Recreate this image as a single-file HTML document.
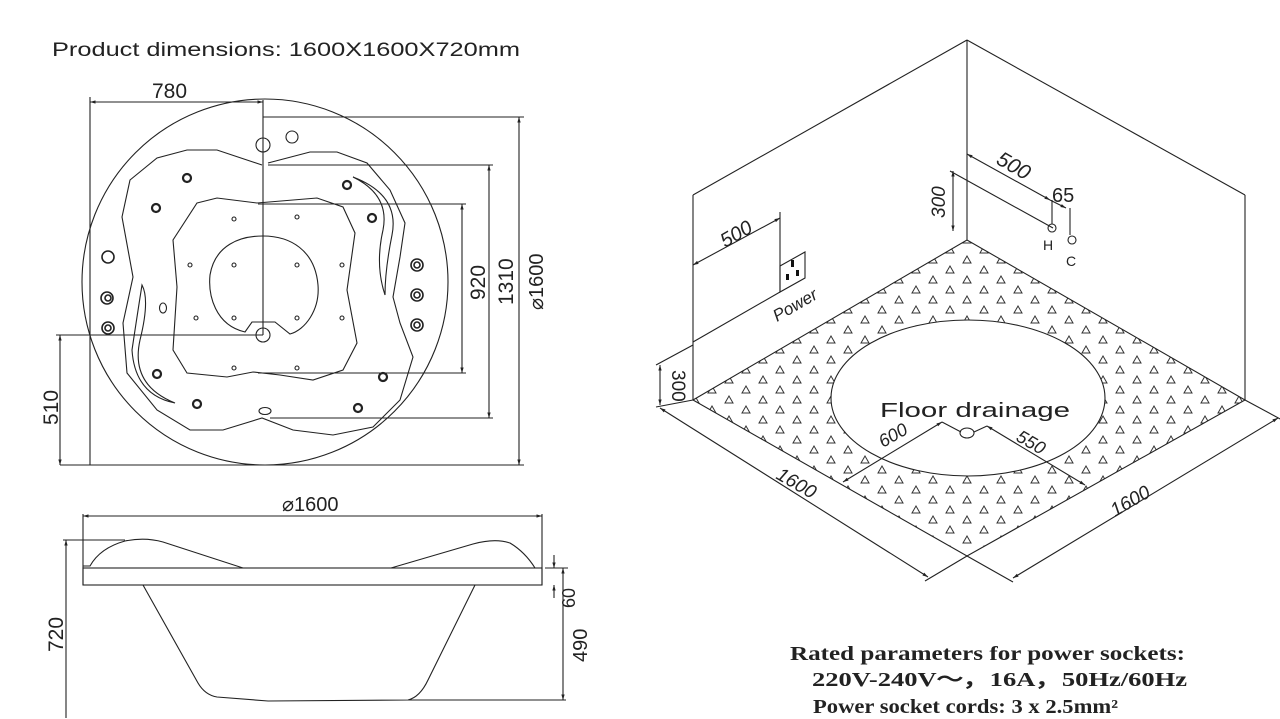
<!DOCTYPE html>
<html><head><meta charset="utf-8"><style>
html,body{margin:0;padding:0;background:#fff;}
svg{display:block;}
text{font-family:"Liberation Sans",sans-serif;fill:#222;}
</style></head><body>
<svg width="1280" height="719" viewBox="0 0 1280 719" xmlns="http://www.w3.org/2000/svg">
<defs>
<marker id="a" viewBox="0 0 10 10" refX="10" refY="5" markerWidth="7" markerHeight="5" orient="auto-start-reverse"><path d="M0,2 L10,5 L0,8z" fill="#222"/></marker>
<pattern id="tri" x="967" y="244" width="34" height="20" patternUnits="userSpaceOnUse">
<path d="M13,9 L17,2 L21,9z M-4,19 L0,12 L4,19z M30,19 L34,12 L38,19z" fill="none" stroke="#333" stroke-width="1"/>
</pattern>
<clipPath id="fl"><polygon points="693,400 967,240 1245,400 967,556"/></clipPath>
</defs>
<g stroke="#222" fill="none" stroke-width="1.1">

<circle cx="265" cy="282" r="183"/>
<path d="M262,165 L217,150 L187,150 L157,158 L130,180 L122,217 L133,277 L123,323 L127,373 L157,410 L190,430 L223,430 L262,418 L293,430 L333,435 L373,427 L400,400 L413,357 L400,323 L393,297 L400,257 L405,223 L390,190 L367,163 L337,152 L310,152 L268,163"/>
<path d="M197,203 L217,198 L257,203 L317,198 L343,207 L355,233 L347,290 L357,343 L343,370 L313,380 L280,375 L253,372 L227,377 L187,373 L173,350 L177,287 L173,240 Z"/>
<path d="M245,332 C215,325 208,295 210,275 C215,245 240,236 263,236 C290,236 315,250 318,285 C320,310 305,330 290,334 L275,322 L252,322 Z"/>
<path d="M353,177 Q400,195 392,235 Q385,270 385,295 Q375,265 383,230 Q390,195 353,177Z"/>
<path d="M142,285 Q150,300 140,340 Q130,385 175,403 Q135,395 132,350 Q138,310 142,285Z"/>
<circle cx="263" cy="145" r="7"/><circle cx="292" cy="137" r="6"/>
<circle cx="263" cy="335" r="7"/>
<ellipse cx="265" cy="411" rx="6" ry="3.5"/>
<ellipse cx="163" cy="308" rx="3.5" ry="5"/>
<g stroke-width="2.2">
<circle cx="187" cy="178" r="4"/><circle cx="156" cy="208" r="4"/><circle cx="347" cy="185" r="4"/><circle cx="372" cy="218" r="4"/>
<circle cx="157" cy="374" r="4"/><circle cx="197" cy="404" r="4"/><circle cx="383" cy="377" r="4"/><circle cx="358" cy="408" r="4"/>
</g>
<g stroke-width="1.6">
<circle cx="108" cy="257" r="6"/><circle cx="107" cy="298" r="6"/><circle cx="108" cy="328" r="6"/>
<circle cx="417" cy="265" r="6"/><circle cx="417" cy="295" r="6"/><circle cx="417" cy="325" r="6"/>
<circle cx="108" cy="298" r="3"/><circle cx="108" cy="328" r="3"/><circle cx="417" cy="265" r="3"/><circle cx="417" cy="295" r="3"/><circle cx="417" cy="325" r="3"/>
</g>
<g>
<circle cx="234" cy="219" r="2"/><circle cx="297" cy="217" r="2"/><circle cx="190" cy="265" r="2"/><circle cx="234" cy="265" r="2"/><circle cx="297" cy="265" r="2"/><circle cx="342" cy="265" r="2"/>
<circle cx="196" cy="318" r="2"/><circle cx="234" cy="318" r="2"/><circle cx="297" cy="318" r="2"/><circle cx="342" cy="318" r="2"/><circle cx="234" cy="368" r="2"/><circle cx="297" cy="368" r="2"/>
</g>
<line x1="263" y1="100" x2="263" y2="335"/>
<line x1="90" y1="97" x2="90" y2="465"/>
<line x1="90" y1="102" x2="263" y2="102" marker-start="url(#a)" marker-end="url(#a)"/>
<line x1="263" y1="117" x2="524" y2="117"/>
<line x1="60" y1="465" x2="524" y2="465"/>
<line x1="519" y1="117" x2="519" y2="465" marker-start="url(#a)" marker-end="url(#a)"/>
<line x1="268" y1="165" x2="493" y2="165"/><line x1="270" y1="418" x2="493" y2="418"/>
<line x1="489" y1="165" x2="489" y2="418" marker-start="url(#a)" marker-end="url(#a)"/>
<line x1="258" y1="204" x2="466" y2="204"/><line x1="258" y1="373" x2="466" y2="373"/>
<line x1="462" y1="204" x2="462" y2="373" marker-start="url(#a)" marker-end="url(#a)"/>
<line x1="56" y1="335" x2="263" y2="335"/>
<line x1="60" y1="335" x2="60" y2="465" marker-start="url(#a)" marker-end="url(#a)"/>

<line x1="83" y1="516" x2="542" y2="516" marker-start="url(#a)" marker-end="url(#a)"/>
<line x1="83" y1="514" x2="83" y2="585"/><line x1="542" y1="514" x2="542" y2="585"/>
<rect x="83" y="568" width="459" height="17"/>
<path d="M63,540 L125,540 M83,566 L90,566 Q100,548 125,541 Q145,537 163,542 L243,568 L391,568 L473,544 Q495,538 510,543 Q525,552 535,568 L542,568"/>
<path d="M143,585 L198,683 Q205,695 217,697 L268,701 L408,700 Q420,697 428,680 L475,585"/>
<line x1="66" y1="540" x2="66" y2="718" marker-start="url(#a)"/>
<line x1="545" y1="568" x2="568" y2="568"/><line x1="408" y1="700" x2="566" y2="700"/>
<line x1="554" y1="555" x2="554" y2="568" marker-end="url(#a)"/><line x1="554" y1="598" x2="554" y2="585" marker-end="url(#a)"/>
<line x1="563" y1="568" x2="563" y2="700" marker-start="url(#a)" marker-end="url(#a)"/>

<line x1="967" y1="40" x2="967" y2="240"/>
<line x1="693" y1="195" x2="967" y2="40"/>
<line x1="967" y1="40" x2="1245" y2="195"/>
<line x1="693" y1="195" x2="693" y2="400"/>
<line x1="1245" y1="195" x2="1245" y2="400"/>
<rect x="690" y="235" width="560" height="330" fill="url(#tri)" stroke="none" clip-path="url(#fl)"/>
<ellipse cx="968" cy="398" rx="137" ry="78" fill="#fff"/>
<polygon points="693,400 967,240 1245,400 967,556"/>
<line x1="693" y1="265" x2="780" y2="218" marker-start="url(#a)" marker-end="url(#a)"/>
<line x1="780" y1="212" x2="780" y2="292"/>
<path d="M780,266 L805,252 L805,278 L780,292 Z"/>
<rect x="791" y="260" width="3" height="7" fill="#111" stroke="none"/><rect x="786" y="274" width="3" height="6" fill="#111" stroke="none"/><rect x="796" y="270" width="3" height="6" fill="#111" stroke="none"/>
<line x1="780" y1="292" x2="693" y2="342"/>
<line x1="953" y1="171" x2="953" y2="231" marker-start="url(#a)" marker-end="url(#a)"/>
<line x1="950" y1="171" x2="1053" y2="228"/>
<line x1="967" y1="154" x2="1050" y2="200" marker-start="url(#a)" marker-end="url(#a)"/>
<line x1="1050" y1="200" x2="1066" y2="208" marker-end="url(#a)"/>
<line x1="1052" y1="200" x2="1052" y2="224"/><line x1="1070" y1="208" x2="1070" y2="235"/>
<circle cx="1052" cy="228" r="4"/><circle cx="1072" cy="240" r="4"/>
<line x1="660" y1="365" x2="660" y2="405" marker-start="url(#a)" marker-end="url(#a)"/>
<line x1="656" y1="365" x2="693" y2="345"/><line x1="693" y1="400" x2="656" y2="407"/>
<line x1="660" y1="408" x2="928" y2="577" marker-start="url(#a)" marker-end="url(#a)"/>
<line x1="967" y1="556" x2="925" y2="581"/><line x1="967" y1="556" x2="1013" y2="582"/>
<line x1="1245" y1="400" x2="1282" y2="420"/>
<line x1="1278" y1="418" x2="1013" y2="578" marker-start="url(#a)" marker-end="url(#a)"/>
<ellipse cx="967" cy="433" rx="7" ry="5"/>
<line x1="942" y1="422" x2="843" y2="482" marker-start="url(#a)" marker-end="url(#a)"/>
<line x1="942" y1="422" x2="961" y2="432"/>
<line x1="987" y1="426" x2="1085" y2="485" marker-start="url(#a)" marker-end="url(#a)"/>
<line x1="987" y1="426" x2="974" y2="432"/>
</g>

<text x="52" y="56" font-size="19" textLength="468" lengthAdjust="spacingAndGlyphs">Product dimensions: 1600X1600X720mm</text>
<text x="152" y="98" font-size="21">780</text>
<text font-size="21" transform="translate(485,300) rotate(-90)">920</text>
<text font-size="21" transform="translate(513,305) rotate(-90)">1310</text>
<text font-size="20" transform="translate(543,310) rotate(-90)">⌀1600</text>
<text font-size="21" transform="translate(58,425) rotate(-90)">510</text>
<text x="282" y="511" font-size="20">⌀1600</text>
<text font-size="21" transform="translate(63,652) rotate(-90)">720</text>
<text font-size="18" transform="translate(575,608) rotate(-90)">60</text>
<text font-size="20" transform="translate(587,662) rotate(-90)">490</text>
<text font-size="20" transform="translate(725,248) rotate(-30)" font-style="italic">500</text>
<text font-size="17" transform="translate(777,322) rotate(-30)" font-style="italic">Power</text>
<text font-size="19" transform="translate(945,218) rotate(-90)" font-style="italic">300</text>
<text font-size="21" transform="translate(995,163) rotate(30)" font-style="italic">500</text>
<text x="1052" y="202" font-size="20">65</text>
<text x="1043" y="250" font-size="14">H</text>
<text x="1066" y="266" font-size="14">C</text>
<text font-size="19" transform="translate(672,370) rotate(90)">300</text>
<text x="880" y="417" font-size="20" textLength="190" lengthAdjust="spacingAndGlyphs">Floor drainage</text>
<text font-size="18" transform="translate(883,448) rotate(-30)" font-style="italic">600</text>
<text font-size="18" transform="translate(1015,440) rotate(30)" font-style="italic">550</text>
<text font-size="19" transform="translate(775,478) rotate(30)" font-style="italic">1600</text>
<text font-size="19" transform="translate(1115,517) rotate(-30)" font-style="italic">1600</text>
<text x="790" y="660" font-size="20" font-weight="bold" style="font-family:'Liberation Serif',serif" textLength="395" lengthAdjust="spacingAndGlyphs">Rated parameters for power sockets:</text>
<text x="812" y="686" font-size="20" font-weight="bold" style="font-family:'Liberation Serif',serif" textLength="375" lengthAdjust="spacingAndGlyphs">220V-240V～，16A，50Hz/60Hz</text>
<text x="813" y="713" font-size="20" font-weight="bold" style="font-family:'Liberation Serif',serif" textLength="305" lengthAdjust="spacingAndGlyphs">Power socket cords: 3 x 2.5mm²</text>
</svg>
</body></html>
